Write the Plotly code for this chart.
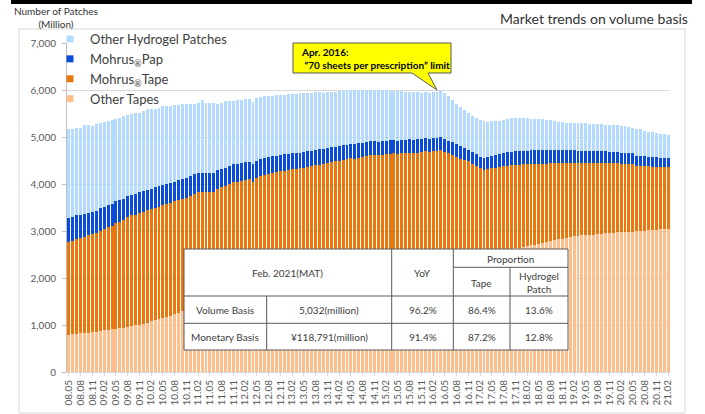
import plotly.graph_objects as go

# ---------------- data ----------------
months = []
yy, mm = 2008, 5
while (yy, mm) <= (2021, 2):
    months.append(f"{yy % 100:02d}.{mm:02d}")
    mm += 1
    if mm > 12:
        mm = 1
        yy += 1

tick_labels = months[::3]

other_tapes = [
    790, 800, 810, 820, 830, 840, 850, 860, 875, 890,
    900, 910, 920, 935, 945, 960, 975, 990, 1010, 1030,
    1050, 1075, 1100, 1125, 1150, 1175, 1200, 1230, 1260, 1290,
    1320, 1335, 1350, 1365, 1380, 1395, 1410, 1425, 1440, 1455,
    1470, 1485, 1500, 1515, 1530, 1545, 1560, 1575, 1590, 1605,
    1620, 1635, 1650, 1665, 1680, 1695, 1710, 1725, 1740, 1755,
    1770, 1785, 1800, 1815, 1830, 1845, 1860, 1875, 1890, 1905,
    1920, 1935, 1950, 1965, 1980, 1995, 2010, 2025, 2040, 2050,
    2060, 2075, 2090, 2105, 2120, 2135, 2150, 2165, 2180, 2195,
    2210, 2225, 2240, 2260, 2275, 2290, 2310, 2325, 2345, 2360,
    2380, 2400, 2415, 2435, 2450, 2470, 2490, 2510, 2525, 2545,
    2560, 2575, 2595, 2610, 2630, 2645, 2660, 2680, 2695, 2710,
    2725, 2740, 2760, 2780, 2800, 2820, 2840, 2860, 2875, 2890,
    2900, 2905, 2915, 2920, 2925, 2930, 2940, 2950, 2960, 2965,
    2970, 2975, 2980, 2985, 2985, 2990, 3000, 3005, 3015, 3020,
    3030, 3035, 3045, 3050]

mohrus_tape = [
    1985, 1990, 2020, 2030, 2050, 2065, 2080, 2100, 2135, 2150,
    2180, 2200, 2260, 2265, 2285, 2330, 2355, 2360, 2370, 2380,
    2390, 2385, 2390, 2395, 2400, 2405, 2400, 2400, 2400, 2390,
    2380, 2415, 2440, 2455, 2450, 2430, 2425, 2415, 2460, 2475,
    2490, 2505, 2540, 2535, 2540, 2545, 2540, 2475, 2540, 2555,
    2570, 2585, 2580, 2585, 2590, 2585, 2590, 2585, 2580, 2575,
    2570, 2575, 2580, 2585, 2580, 2575, 2580, 2585, 2590, 2585,
    2600, 2595, 2600, 2575, 2580, 2585, 2590, 2585, 2580, 2560,
    2560, 2555, 2550, 2545, 2520, 2515, 2510, 2505, 2480, 2475,
    2470, 2475, 2450, 2450, 2435, 2435, 2380, 2325, 2275, 2220,
    2160, 2110, 2065, 1995, 1930, 1865, 1810, 1800, 1805, 1805,
    1800, 1805, 1795, 1790, 1780, 1770, 1760, 1740, 1730, 1720,
    1705, 1690, 1675, 1660, 1640, 1625, 1600, 1585, 1575, 1555,
    1545, 1535, 1530, 1530, 1520, 1510, 1505, 1500, 1485, 1475,
    1470, 1460, 1450, 1445, 1440, 1390, 1380, 1380, 1360, 1350,
    1340, 1330, 1315, 1310]

mohrus_pap = [
    510, 505, 500, 495, 490, 485, 480, 475, 470, 468,
    465, 460, 455, 455, 450, 447, 445, 442, 440, 438,
    436, 434, 438, 430, 428, 426, 424, 422, 420, 420,
    418, 416, 414, 410, 405, 400, 398, 400, 392, 390,
    388, 385, 382, 380, 378, 375, 372, 378, 368, 365,
    362, 360, 357, 355, 352, 350, 347, 345, 342, 340,
    337, 335, 332, 330, 327, 325, 322, 320, 317, 315,
    312, 310, 308, 305, 303, 300, 298, 296, 294, 292,
    290, 288, 287, 285, 284, 283, 282, 281, 280, 279,
    278, 277, 276, 275, 274, 273, 270, 267, 264, 261,
    258, 256, 254, 252, 250, 250, 255, 262, 268, 272,
    276, 280, 283, 285, 287, 288, 289, 290, 290, 289,
    288, 287, 286, 284, 282, 280, 278, 275, 272, 270,
    267, 264, 261, 258, 255, 252, 249, 246, 243, 240,
    237, 234, 231, 228, 225, 215, 212, 208, 205, 202,
    199, 196, 193, 190]

other_hydrogel = [
    1885, 1865, 1870, 1845, 1880, 1870, 1830, 1845, 1820, 1812,
    1795, 1800, 1745, 1748, 1770, 1733, 1715, 1718, 1700, 1712,
    1719, 1706, 1668, 1670, 1672, 1654, 1646, 1628, 1610, 1600,
    1587, 1534, 1506, 1490, 1555, 1495, 1487, 1474, 1408, 1410,
    1412, 1395, 1348, 1350, 1342, 1335, 1338, 1320, 1342, 1335,
    1328, 1300, 1283, 1295, 1278, 1260, 1263, 1255, 1258, 1260,
    1253, 1245, 1228, 1220, 1213, 1195, 1198, 1170, 1163, 1165,
    1148, 1150, 1142, 1145, 1127, 1120, 1092, 1104, 1086, 1088,
    1080, 1072, 1053, 1045, 1046, 1037, 1018, 999, 1010, 1001,
    982, 973, 964, 965, 976, 972, 970, 953, 896, 859,
    842, 804, 776, 768, 770, 775, 775, 748, 732, 708,
    704, 700, 707, 715, 703, 707, 691, 690, 675, 661,
    662, 663, 649, 646, 628, 585, 592, 580, 578, 580,
    588, 591, 584, 572, 575, 583, 576, 564, 572, 570,
    573, 571, 569, 552, 550, 585, 568, 537, 530, 528,
    511, 509, 507, 495]

series_names = ["Other Tapes", "Mohrus<sub>®</sub>Tape", "Mohrus<sub>®</sub>Pap", "Other Hydrogel Patches"]
series_values = [other_tapes, mohrus_tape, mohrus_pap, other_hydrogel]
series_colors = ["#FFBE8C", "#E8780E", "#0A4CD4", "#B5DAFF"]

table_rows = [
    ["Volume Basis", "5,032(million)", "96.2%", "86.4%", "13.6%"],
    ["Monetary Basis", "¥118,791(million)", "91.4%", "87.2%", "12.8%"],
]

# ---------------- layout helpers (pixel -> paper) ----------------
W, H = 705, 414
L, R, T, B = 67, 670, 43, 372
def px(x):
    return (x - L) / (R - L)
def py(y):
    return (B - y) / (B - T)

FONT = "Lato, 'Open Sans', sans-serif"
TXT = "#404040"

fig = go.Figure()
for name, vals, col in zip(series_names, series_values, series_colors):
    fig.add_trace(go.Bar(x=months, y=vals, name=name, marker=dict(color=col, line=dict(width=0)),
                         showlegend=False))
# legend entries (small square swatches) in display order
for name, col in list(zip(series_names, series_colors))[::-1]:
    fig.add_trace(go.Scatter(x=[None], y=[None], mode="markers", name=name,
                             marker=dict(symbol="square", size=7, color=col)))

shapes = []
annotations = []

# top black rule
shapes.append(dict(type="rect", xref="paper", yref="paper", x0=px(11), x1=px(692), y0=py(4), y1=py(-1),
                   fillcolor="black", line=dict(width=0), layer="above"))
# chart area frame
shapes.append(dict(type="rect", xref="paper", yref="paper", x0=px(19), x1=px(685), y0=py(413), y1=py(29),
                   fillcolor="rgba(0,0,0,0)", line=dict(color="#D9D9D9", width=1), layer="below"))

# callout
pts = [(293, 43), (451, 43), (451, 73), (428, 73), (437, 90), (412, 73), (293, 73)]
path = "M " + " L ".join(f"{px(a):.5f},{py(b):.5f}" for a, b in pts) + " Z"
shapes.append(dict(type="path", xref="paper", yref="paper", path=path, fillcolor="#FFFF00",
                   line=dict(color="#595959", width=1), layer="above"))
annotations.append(dict(xref="paper", yref="paper", x=px(299), y=py(58), xanchor="left", yanchor="middle",
                        align="left", showarrow=False,
                        text="<b>Apr. 2016:</b><br><b> “70 sheets per prescription” limit</b>",
                        font=dict(family=FONT, size=10, color="black")))

# table
tx0, tx1, ty0, ty1 = 184, 568, 249, 350
cx = [184, 266.7, 391.7, 453.3, 510, 568]
shapes.append(dict(type="rect", xref="paper", yref="paper", x0=px(tx0), x1=px(tx1), y0=py(ty1), y1=py(ty0),
                   fillcolor="white", line=dict(color="#595959", width=1), layer="above"))
def hline(y, xa, xb):
    shapes.append(dict(type="line", xref="paper", yref="paper", x0=px(xa), x1=px(xb), y0=py(y), y1=py(y),
                       line=dict(color="#595959", width=1), layer="above"))
def vline(x, ya, yb):
    shapes.append(dict(type="line", xref="paper", yref="paper", x0=px(x), x1=px(x), y0=py(ya), y1=py(yb),
                       line=dict(color="#595959", width=1), layer="above"))
hline(267.3, 453.3, 568)
hline(296, tx0, tx1)
hline(323.3, tx0, tx1)
vline(266.7, 296, ty1)
vline(391.7, ty0, ty1)
vline(453.3, ty0, ty1)
vline(510, 267.3, ty1)

def cell(text, x, y):
    annotations.append(dict(xref="paper", yref="paper", x=px(x), y=py(y), xanchor="center", yanchor="middle",
                            showarrow=False, text=text, font=dict(family=FONT, size=10, color=TXT)))
cell("Feb. 2021(MAT)", (184 + 391.7) / 2, 273)
cell("YoY", (391.7 + 453.3) / 2, 273)
cell("Proportion", (453.3 + 568) / 2, 258.5)
cell("Tape", (453.3 + 510) / 2, 283)
cell("Hydrogel<br>Patch", (510 + 568) / 2, 282)
for row, yc in zip(table_rows, [309.7, 336.7]):
    for i, t in enumerate(row):
        cell(t, (cx[i] + cx[i + 1]) / 2, yc)

# titles
annotations.append(dict(xref="paper", yref="paper", x=px(690), y=py(19), xanchor="right", yanchor="middle",
                        showarrow=False, text="Market trends on volume basis",
                        font=dict(family=FONT, size=14, color="#333333")))
annotations.append(dict(xref="paper", yref="paper", x=px(56), y=py(18), xanchor="center", yanchor="middle",
                        showarrow=False, text="Number of Patches<br>(Million)",
                        font=dict(family=FONT, size=10, color="#333333")))

fig.update_layout(
    width=W, height=H,
    margin=dict(l=L, r=W - R, t=T, b=H - B, autoexpand=False),
    paper_bgcolor="white", plot_bgcolor="white",
    barmode="stack", bargap=0.25,
    font=dict(family=FONT, color=TXT),
    legend=dict(x=px(50), y=py(24), xanchor="left", yanchor="top", bgcolor="rgba(0,0,0,0)",
                font=dict(family=FONT, size=13, color=TXT), traceorder="normal"),
    shapes=shapes, annotations=annotations,
    xaxis=dict(type="category", categoryorder="array", categoryarray=months,
               tickmode="array", tickvals=tick_labels, ticktext=tick_labels, tickangle=-90,
               tickfont=dict(family=FONT, size=10, color="#595959"),
               showgrid=False, showline=True, linecolor="#D9D9D9", ticks="outside", ticklen=3,
               tickcolor="#D9D9D9", range=[-0.5, len(months) - 0.5], automargin=False),
    yaxis=dict(range=[0, 7000], tickvals=[0, 1000, 2000, 3000, 4000, 5000, 6000, 7000], tickformat=",d",
               tickfont=dict(family=FONT, size=10, color="#595959"),
               showgrid=True, gridcolor="#D9D9D9", gridwidth=1, zeroline=False,
               showline=True, linecolor="#BFBFBF", ticks="outside", ticklen=4, tickcolor="#BFBFBF",
               ticklabelstandoff=4, automargin=False),
)

fig.write_html("out.html", config={"displayModeBar": False},
               post_script="document.body.style.margin='0';")
